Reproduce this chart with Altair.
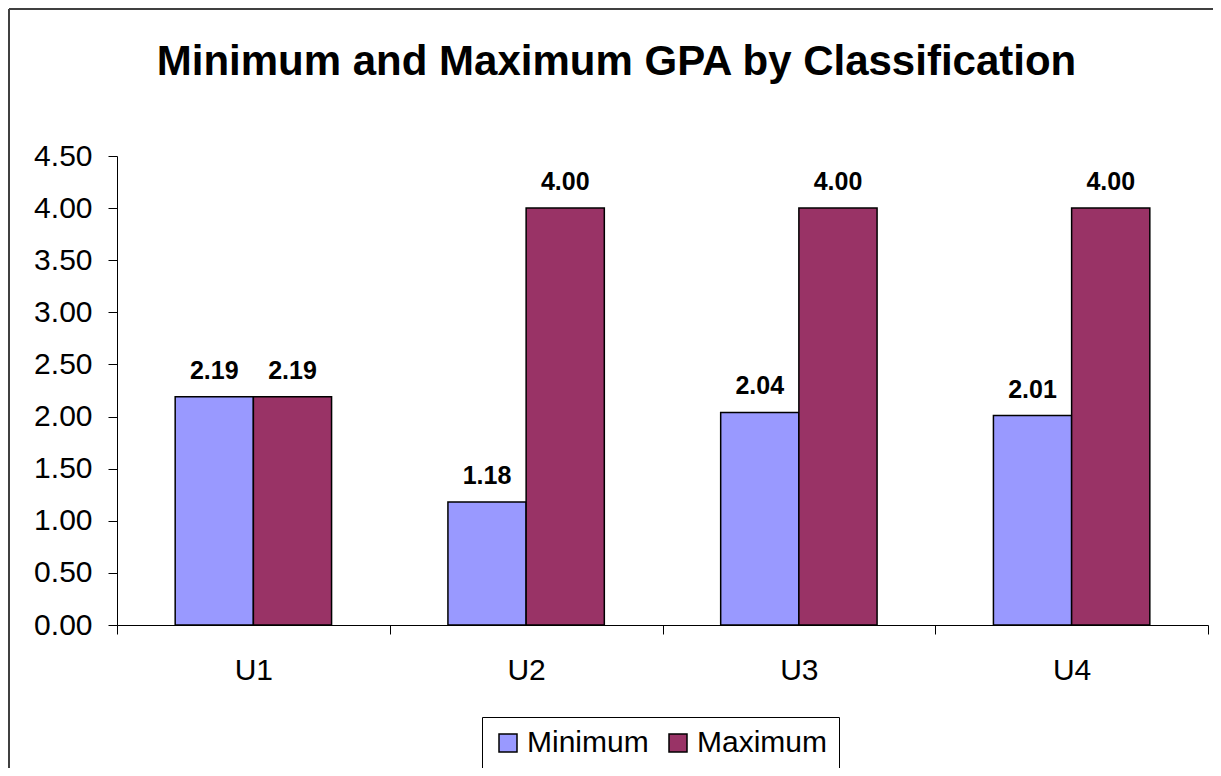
import altair as alt
import pandas as pd

categories = ["U1", "U2", "U3", "U4"]
minimum = [2.19, 1.18, 2.04, 2.01]
maximum = [2.19, 4.00, 4.00, 4.00]
series = ["Minimum", "Maximum"]
colors = ["#9999FF", "#993366"]
y_ticks = [0, 0.5, 1.0, 1.5, 2.0, 2.5, 3.0, 3.5, 4.0, 4.5]

rows = []
for c, mn, mx in zip(categories, minimum, maximum):
    rows.append({"cat": c, "series": "Minimum", "gpa": mn})
    rows.append({"cat": c, "series": "Maximum", "gpa": mx})
df = pd.DataFrame(rows)

FONT = "Liberation Sans"
W, H = 1091, 469
PAD = {"left": 109, "top": 148, "right": 5, "bottom": 143}

x = alt.X(
    "cat:N", sort=categories, title=None,
    scale=alt.Scale(paddingInner=0, paddingOuter=0),
    axis=alt.Axis(labelAngle=0, tickBand="extent", tickSize=9, labelPadding=21,
                  labelFontSize=30, labelFont=FONT, labelColor="black",
                  domainColor="black", tickColor="black", grid=False),
)
xoff = alt.XOffset("series:N", sort=series,
                   scale=alt.Scale(paddingInner=0, paddingOuter=0.744))
y = alt.Y(
    "gpa:Q", title=None,
    scale=alt.Scale(domain=[0, 4.5], nice=False, zero=True),
    axis=alt.Axis(values=y_ticks, format=".2f", tickSize=9, labelPadding=16,
                  labelFontSize=30, labelFont=FONT, labelColor="black",
                  domainColor="black", tickColor="black", grid=False),
)
color = alt.Color(
    "series:N", sort=series,
    scale=alt.Scale(domain=series, range=colors),
    legend=alt.Legend(title=None, orient="none", legendX=365, legendY=561,
                      direction="horizontal", strokeColor="black", fillColor="white",
                      padding=11, symbolType="square", symbolSize=324,
                      symbolStrokeColor="black", symbolStrokeWidth=1.5,
                      labelFontSize=30, labelFont=FONT, labelColor="black",
                      columnPadding=14, labelOffset=4),
)

bars = alt.Chart().mark_bar(stroke="black", strokeWidth=1.5).encode(
    x=x, xOffset=xoff, y=y, color=color
)
labels = alt.Chart().mark_text(
    font=FONT, fontSize=25, fontWeight="bold", baseline="alphabetic", dy=-18, color="black"
).encode(x=x, xOffset=xoff, y=y, text=alt.Text("gpa:Q", format=".2f"))

left_border = alt.Chart(alt.Data(values=[{}])).mark_rule(color="#404040", strokeWidth=2).encode(
    x=alt.value(-108), y=alt.value(-147), y2=alt.value(612)
)
top_border = alt.Chart(alt.Data(values=[{}])).mark_rule(color="#404040", strokeWidth=2).encode(
    x=alt.value(-108), x2=alt.value(1096), y=alt.value(-147)
)

chart = alt.layer(bars, labels, left_border, top_border, data=df).properties(
    width=W, height=H,
    autosize=alt.AutoSizeParams(type="none"),
    padding=PAD,
    background="white",
    title=alt.TitleParams(
        "Minimum and Maximum GPA by Classification", font=FONT, fontSize=42,
        fontWeight="bold", color="black", anchor="middle", frame="group",
        baseline="alphabetic", dx=-46, offset=-109,
    ),
).configure_view(stroke=None)

chart.save("out.html", embed_options={"renderer": "svg", "actions": False})
